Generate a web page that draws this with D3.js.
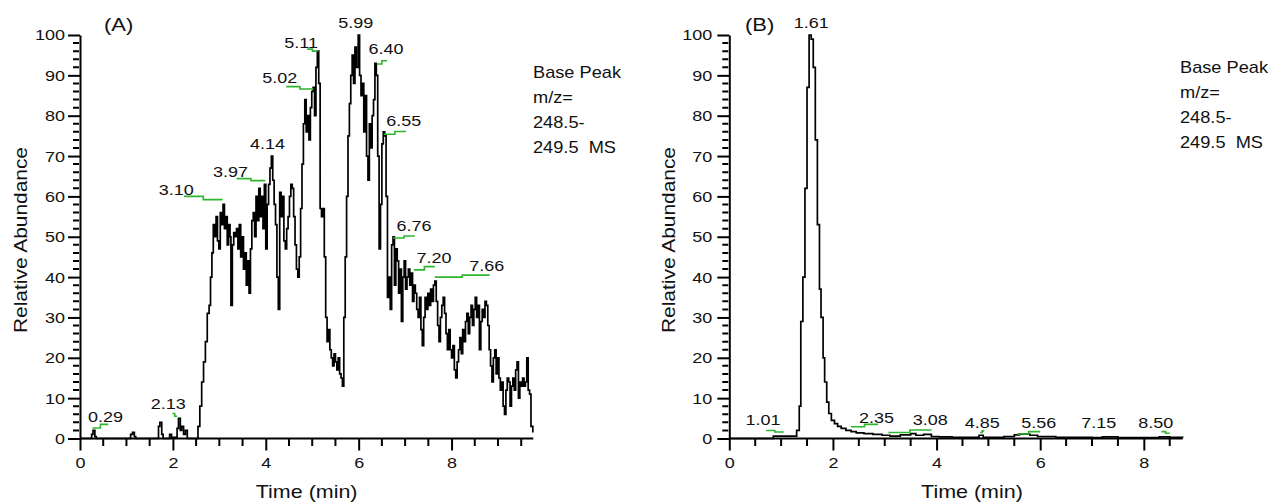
<!DOCTYPE html>
<html>
<head>
<meta charset="utf-8">
<script src="https://cdn.jsdelivr.net/npm/d3@7"></script>
<style>
body { margin: 0; background: #fff; }
svg text { font-family: "Liberation Sans", Arial, sans-serif; fill: #111; white-space: pre; }
.domain { stroke: #000; stroke-width: 2; }
.tick line { stroke: #000; }
</style>
</head>
<body>
<svg id="chart" width="1270" height="504"></svg>
<script>
// ---- panel A: base peak chromatogram (time in min, relative abundance in %)
var timeA = [0, 0.25, 0.28, 0.32, 0.35, 1.09, 1.13, 1.17, 1.20, 1.69, 1.72, 1.76, 1.79, 1.93, 1.97,
  2.09, 2.12, 2.16, 2.19, 2.23, 2.27, 2.31, 2.54, 2.58, 2.62, 2.66, 2.70, 2.74, 2.78, 2.81, 2.84,
  2.87, 2.90, 2.93, 2.96, 2.99, 3.02, 3.05, 3.08, 3.11, 3.14, 3.17, 3.20, 3.23, 3.25, 3.28, 3.31,
  3.34, 3.37, 3.40, 3.43, 3.46, 3.49, 3.52, 3.55, 3.58, 3.61, 3.64, 3.67, 3.70, 3.73, 3.76, 3.79,
  3.82, 3.85, 3.88, 3.91, 3.94, 3.97, 4.00, 4.03, 4.06, 4.09, 4.12, 4.15, 4.18, 4.21, 4.24, 4.27,
  4.30, 4.33, 4.36, 4.39, 4.42, 4.45, 4.48, 4.51, 4.54, 4.57, 4.60, 4.63, 4.66, 4.69, 4.72, 4.75,
  4.78, 4.81, 4.84, 4.87, 4.90, 4.93, 4.96, 4.99, 5.02, 5.05, 5.08, 5.11, 5.14, 5.17, 5.20, 5.23,
  5.26, 5.29, 5.32, 5.35, 5.38, 5.41, 5.44, 5.47, 5.50, 5.53, 5.56, 5.59, 5.62, 5.65, 5.68, 5.71,
  5.74, 5.77, 5.80, 5.83, 5.86, 5.89, 5.92, 5.95, 5.99, 6.02, 6.05, 6.08, 6.11, 6.14, 6.17, 6.20,
  6.23, 6.26, 6.29, 6.32, 6.35, 6.38, 6.41, 6.44, 6.47, 6.50, 6.53, 6.56, 6.59, 6.62, 6.65, 6.68,
  6.71, 6.74, 6.77, 6.80, 6.83, 6.86, 6.89, 6.92, 6.95, 6.98, 7.01, 7.04, 7.07, 7.10, 7.13, 7.16,
  7.19, 7.22, 7.25, 7.28, 7.31, 7.34, 7.37, 7.40, 7.43, 7.46, 7.49, 7.52, 7.55, 7.58, 7.61, 7.64,
  7.67, 7.70, 7.73, 7.76, 7.79, 7.82, 7.85, 7.88, 7.91, 7.94, 7.97, 8.00, 8.03, 8.06, 8.09, 8.12,
  8.15, 8.18, 8.21, 8.24, 8.27, 8.30, 8.33, 8.36, 8.39, 8.42, 8.45, 8.48, 8.51, 8.54, 8.57, 8.60,
  8.63, 8.66, 8.69, 8.72, 8.75, 8.78, 8.81, 8.84, 8.87, 8.90, 8.93, 8.96, 8.99, 9.02, 9.05, 9.08,
  9.11, 9.14, 9.17, 9.20, 9.23, 9.26, 9.29, 9.32, 9.35, 9.38, 9.41, 9.44, 9.47, 9.50, 9.53, 9.56,
  9.59, 9.62, 9.65, 9.68, 9.71, 9.75];
var abundA = [0, 1, 2, 0.5, 0, 1, 1.5, 0.5, 0, 3, 4, 1, 0, 1, 0.3,
  2.5, 5, 2, 3, 1, 2, 0, 3, 8, 14, 19, 24, 31, 33, 40, 46,
  53, 50, 55, 49, 47, 56, 53, 58, 52, 55, 48, 53, 50, 33, 48, 51,
  50, 52, 47, 53, 45, 50, 42, 46, 38, 44, 36, 47, 54, 56, 50, 60,
  54, 62, 55, 60, 52, 63, 47, 58, 63, 67, 70, 64, 58, 53, 40, 32,
  61, 55, 60, 49, 47, 52, 55, 60, 63, 62, 55, 48, 42, 40, 45, 57,
  68, 78, 84, 76, 80, 74, 82, 86, 87, 80, 92, 96, 88, 57, 55, 57,
  45, 30, 24, 27, 22, 20, 18, 21, 19, 17, 20, 16, 15, 13, 30, 45,
  60, 75, 83, 90, 95, 88, 97, 92, 100, 90, 85, 88, 76, 85, 70, 64,
  78, 72, 80, 84, 93, 90, 70, 47, 58, 73, 76, 75, 60, 35, 40, 32,
  48, 50, 38, 47, 44, 36, 42, 29, 40, 44, 37, 40, 42, 38, 41, 34,
  38, 36, 32, 30, 35, 27, 23, 30, 35, 32, 36, 33, 37, 34, 38, 39,
  34, 28, 24, 30, 33, 35, 31, 26, 22, 27, 22, 20, 23, 17, 15, 19,
  22, 25, 21, 27, 24, 29, 31, 26, 30, 33, 28, 32, 35, 30, 33, 22,
  29, 32, 30, 34, 33, 28, 22, 18, 14, 20, 22, 16, 20, 15, 12, 14,
  8, 6, 12, 15, 14, 8, 13, 15, 12, 17, 19, 10, 14, 13, 15, 13,
  14, 20, 12, 11, 3, 1.5];

var peakTextA  = ["0.29", "2.13", "3.10", "3.97", "4.14", "5.02", "5.11", "5.99", "6.40", "6.55", "6.76", "7.20", "7.66"];
var peakTimeA  = [0.55, 1.90, 2.07, 3.24, 4.04, 4.30, 4.76, 5.94, 6.59, 6.97, 7.19, 7.62, 8.76];
var peakLevelA = [4.2, 7.4, 60.4, 64.9, 71.8, 88.2, 96.9, 101.8, 95.4, 77.5, 51.5, 43.6, 41.6];
// green bookmark segments: start/end time and start/end level (null = none)
var markStartA = [0.27, 1.99, 2.24, 3.37, null, 4.44, 4.89, null, 6.39, 6.54, 6.74, 7.19, 7.64];
var markEndA   = [0.61, 2.09, 3.07, 3.99, null, 5.03, 5.12, null, 6.61, 7.02, 7.21, 7.64, 8.82];
var markLvl1A  = [2.6, 6.2, 60.0, 64.4, null, 87.2, 96.5, null, 92.8, 75.4, 49.7, 41.8, 40.0];
var markLvl2A  = [3.5, 5.5, 59.2, 63.9, null, 86.6, 96.0, null, 93.6, 76.1, 50.2, 42.6, 40.5];

// ---- panel B
var timeB = [0, 0.85, 1.30, 1.35, 1.38, 1.42, 1.46, 1.50, 1.54, 1.58, 1.62, 1.66, 1.70, 1.74, 1.77,
  1.81, 1.84, 1.88, 1.92, 1.97, 2.03, 2.09, 2.16, 2.25, 2.35, 2.45, 2.60, 2.77, 2.95, 3.10, 3.30,
  3.50, 3.60, 3.75, 3.90, 4.05, 4.30, 4.60, 4.82, 4.90, 5.30, 5.50, 5.60, 5.80, 5.95, 6.30, 7.00,
  7.20, 7.50, 8.30, 8.50, 8.75];
var abundB = [0, 0.6, 2, 8, 29, 40, 62, 87, 100, 99, 92, 74, 53, 37, 30,
  20, 14, 9, 6.2, 4.5, 3.7, 3, 2.5, 2, 1.7, 1.4, 1.2, 1, 0.8, 0.6, 0.9,
  1.2, 0.8, 1, 0.5, 0.4, 0.3, 0.3, 0.8, 0.3, 0.5, 0.9, 1.1, 0.8, 0.5, 0.3, 0.2,
  0.4, 0.2, 0.4, 0.3, 0.2];

var peakTextB  = ["1.01", "1.61", "2.35", "3.08", "4.85", "5.56", "7.15", "8.50"];
var peakTimeB  = [0.65, 1.58, 2.84, 3.88, 4.88, 5.97, 7.13, 8.23];
var peakLevelB = [3.3, 101.7, 3.8, 3.3, 2.6, 2.6, 2.6, 2.6];
var markStartB = [0.71, null, 2.35, 3.07, 4.84, 5.55, null, 8.34];
var markEndB   = [1.05, null, 2.87, 3.90, 4.92, 6.00, null, 8.50];
var markLvl1B  = [2.0, null, 2.9, 1.5, 1.5, 1.1, null, 1.7];
var markLvl2B  = [1.6, null, 3.5, 2.1, 1.9, 1.7, null, 1.3];

var xTickStep = 2, xMinorStep = 0.5;
var yTickStep = 10, yMinorStep = 2;
var infoLines = ["Base Peak", "m/z=", "248.5-", "249.5  MS"];

var svg = d3.select("#chart");

function drawPanel(p) {
  var x = d3.scaleLinear().domain([0, p.xMax]).range([p.x0, p.x1]);
  var y = d3.scaleLinear().domain([0, 100]).range([438.5, 35]);
  var g = svg.append("g");

  // x axis: labelled every 2 min
  var xAxis = g.append("g")
    .attr("transform", "translate(0,438.5)")
    .call(d3.axisBottom(x)
      .tickValues(d3.range(0, p.xMax, xTickStep))
      .tickSize(12).tickSizeOuter(0).tickPadding(6));
  xAxis.select(".domain").attr("d", "M" + p.x0 + ",0H" + p.x1);
  xAxis.selectAll(".tick line").attr("stroke-width", 2);
  xAxis.selectAll("text").attr("class", "wide").attr("font-size", 15.5).attr("font-family", null);

  // y axis: labelled every 10 %
  var yAxis = g.append("g")
    .attr("transform", "translate(" + p.x0 + ",0)")
    .call(d3.axisLeft(y)
      .tickValues(d3.range(0, 101, yTickStep))
      .tickSize(12).tickSizeOuter(0).tickPadding(p.yPad));
  yAxis.selectAll(".tick line").attr("stroke-width", 2);
  yAxis.selectAll("text").attr("class", "wide").attr("font-size", 15.5).attr("font-family", null);

  // the trace
  var line = d3.line()
    .x(function(d, i) { return x(p.time[i]); })
    .y(function(d) { return y(d); })
    .curve(d3.curveStepAfter);
  g.append("path")
    .datum(p.abund)
    .attr("d", line)
    .attr("fill", "none")
    .attr("stroke", "#000")
    .attr("stroke-width", 1.7);

  // green bookmarks
  var mark = d3.line().x(function(d) { return x(d[0]); }).y(function(d) { return y(d[1]); }).curve(d3.curveStep);
  p.mStart.forEach(function(t, i) {
    if (t === null) return;
    g.append("path")
      .attr("d", mark([[t, p.mLvl1[i]], [p.mEnd[i], p.mLvl2[i]]]))
      .attr("fill", "none")
      .attr("stroke", "#2fb52f")
      .attr("stroke-width", 1.6);
  });

  // peak labels
  g.selectAll(".peak")
    .data(p.peakText)
    .enter().append("text")
    .attr("class", "wide")
    .attr("x", function(d, i) { return x(p.peakTime[i]); })
    .attr("y", function(d, i) { return y(p.peakLevel[i]); })
    .attr("text-anchor", "middle")
    .attr("font-size", 15.5)
    .text(function(d) { return d; });

  // panel letter
  g.append("text")
    .attr("class", "wide")
    .attr("x", p.letterX).attr("y", 31)
    .attr("font-size", 19)
    .text(p.letter);

  // axis titles
  g.append("text")
    .attr("transform", "translate(" + p.yTitleX + ",240) rotate(-90)")
    .attr("text-anchor", "middle")
    .attr("dy", "0.35em")
    .attr("font-size", 19)
    .attr("textLength", 186)
    .attr("lengthAdjust", "spacingAndGlyphs")
    .text("Relative Abundance");
  g.append("text")
    .attr("class", "wide")
    .attr("x", (p.x0 + p.x1) / 2 + p.xTitleShift).attr("y", 498)
    .attr("text-anchor", "middle")
    .attr("font-size", 18.5)
    .text("Time (min)");

  // scan filter info
  g.selectAll(".info")
    .data(infoLines)
    .enter().append("text")
    .attr("class", "info")
    .attr("x", p.infoX)
    .attr("y", function(d, i) { return p.infoY + i * 25; })
    .attr("font-size", 17)
    .text(function(d) { return d; });

  // minor ticks as one path on top: every 0.5 min and every 2 %
  var ladder = d3.range(xMinorStep, p.xMax, xMinorStep)
    .filter(function(d) { return d % xTickStep !== 0; })
    .map(function(d) { return "M" + x(d) + ",439v7"; })
    .concat(d3.range(yMinorStep, 100, yMinorStep)
      .filter(function(d) { return d % yTickStep !== 0; })
      .map(function(d) { return "M" + (p.x0 - 1) + "," + y(d) + "h-6"; }))
    .join("");
  svg.append("path")
    .attr("d", ladder)
    .attr("fill", "none")
    .attr("stroke", "#000")
    .attr("stroke-width", 2);
}

drawPanel({
  time: timeA, abund: abundA, xMax: 9.76, x0: 80, x1: 533.3, yPad: 3,
  peakText: peakTextA, peakTime: peakTimeA, peakLevel: peakLevelA,
  mStart: markStartA, mEnd: markEndA, mLvl1: markLvl1A, mLvl2: markLvl2A,
  letter: "(A)", letterX: 104, yTitleX: 20, xTitleShift: 0, infoX: 533, infoY: 78
});
drawPanel({
  time: timeB, abund: abundB, xMax: 8.75, x0: 729.3, x1: 1182.7, yPad: 5,
  peakText: peakTextB, peakTime: peakTimeB, peakLevel: peakLevelB,
  mStart: markStartB, mEnd: markEndB, mLvl1: markLvl1B, mLvl2: markLvl2B,
  letter: "(B)", letterX: 745, yTitleX: 668, xTitleShift: 16, infoX: 1180, infoY: 73
});

// widen the Arial-metric glyphs to match the original lettering
function widen(sel, k) {
  sel.each(function() {
    var w = this.getComputedTextLength();
    if (w > 0) d3.select(this).attr("textLength", w * k).attr("lengthAdjust", "spacingAndGlyphs");
  });
}
widen(svg.selectAll("text.wide"), 1.16);
widen(svg.selectAll("text.info"), 1.07);
</script>
</body>
</html>
